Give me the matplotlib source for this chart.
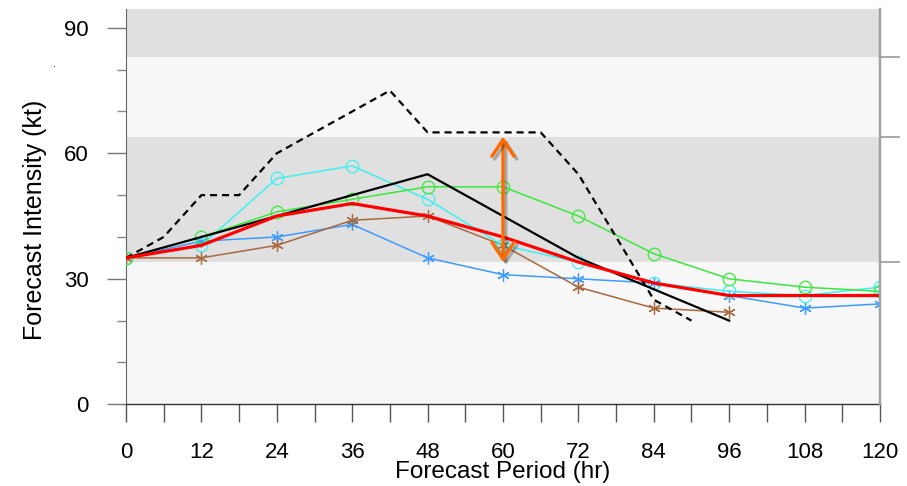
import matplotlib
matplotlib.use("Agg")
import matplotlib.pyplot as plt
import matplotlib.patheffects as pe

plt.rcParams['font.family'] = ['Liberation Sans', 'DejaVu Sans']

# forecast hours
hours = [0, 12, 24, 36, 48, 60, 72, 84, 96, 108, 120]

# dashed black guidance (irregular hours)
dash_hours = [0, 6, 12, 18, 24, 36, 42, 48, 60, 66, 72, 84, 90]
dash_vals = [35, 40, 50, 50, 60, 70, 75, 65, 65, 65, 55, 25, 20]

# solid black
black_hours = [0, 48, 72, 96]
black_vals = [35, 55, 35, 20]

red_vals = [35, 38, 45, 48, 45, 40, 34, 29, 26, 26, 26]
green_vals = [35, 40, 46, 49, 52, 52, 45, 36, 30, 28, 27]
cyan_vals = [35, 38, 54, 57, 49, 38, 34, 29, 27, 26, 28]
blue_vals = [35, 39, 40, 43, 35, 31, 30, 29, 26, 23, 24]
brown_hours = [0, 12, 24, 36, 48, 60, 72, 84, 96]
brown_vals = [35, 35, 38, 44, 45, 38, 28, 23, 22]

# intensity category boundaries (kt)
bounds = [0, 34, 64, 83, 94.5]
band_colors = ['#f7f7f7', '#e0e0e0', '#f7f7f7', '#e0e0e0']

# spread arrow at 60 h
arrow_hour = 60
arrow_lo, arrow_hi = 34, 64

fig = plt.figure(figsize=(9.07, 4.86), dpi=100)
ax = fig.add_axes([126 / 907, 1 - 404.3 / 486, 754 / 907, 395.3 / 486])
ax.set_xlim(0, 120)
ax.set_ylim(0, 94.5)

for i in range(len(band_colors)):
    ax.axhspan(bounds[i], bounds[i + 1], color=band_colors[i], lw=0, zorder=0)

asterisk = (6, 2, 0)
ax.plot(hours, blue_vals, color='#3d9bff', lw=1.1, marker=asterisk, ms=9,
        mew=0.9, zorder=3)
ax.plot(brown_hours, brown_vals, color='#a8693f', lw=1.1, marker=asterisk, ms=9,
        mew=0.9, zorder=3)
ax.plot(hours, cyan_vals, color='#3ff0f0', lw=1.1, marker='o', ms=9,
        mfc='none', mew=0.9, zorder=3)
ax.plot(hours, green_vals, color='#3be83b', lw=1.1, marker='o', ms=9,
        mfc='none', mew=0.9, zorder=3)
ax.plot(black_hours, black_vals, color='black', lw=1.6, zorder=4)
ax.plot(dash_hours, dash_vals, color='black', lw=1.6, dashes=(3.2, 2.2), zorder=4)
ax.plot(hours, red_vals, color='#ff0000', lw=2.3, zorder=5)

ax.annotate('', xy=(arrow_hour, arrow_lo), xytext=(arrow_hour, arrow_hi),
            arrowprops=dict(arrowstyle='<->,head_length=0.6,head_width=0.4',
                            color='#ff6a00', lw=2.4, mutation_scale=20,
                            shrinkA=0, shrinkB=0,
                            path_effects=[pe.SimpleLineShadow(offset=(2, -2), alpha=0.25),
                                          pe.Normal()]),
            zorder=6)

ax.set_xticks(range(0, 121, 12))
ax.set_xticks(range(6, 121, 12), minor=True)
ax.set_yticks([0, 30, 60, 90])
ax.set_yticks([10, 20, 40, 50, 70, 80], minor=True)
ax.tick_params(axis='x', which='both', direction='out', length=13, width=1,
               color='#555555', pad=14, labelsize=16)
ax.tick_params(axis='y', which='major', direction='out', length=13.7, width=1,
               color='#777777', pad=13, labelsize=16)
ax.tick_params(axis='y', which='minor', direction='out', length=6.5, width=1,
               color='#888888')

ax.spines['top'].set_visible(False)
ax.spines['left'].set_color('#666666')
ax.spines['left'].set_linewidth(0.8)
ax.spines['bottom'].set_color('#333333')
ax.spines['bottom'].set_linewidth(1)
ax.spines['right'].set_color('#a0a0a0')
ax.spines['right'].set_linewidth(1.6)

ax2 = ax.twinx()
ax2.set_ylim(ax.get_ylim())
ax2.set_yticks(bounds[1:4])
ax2.tick_params(axis='y', direction='out', length=14.4, width=1.3,
                color='#a0a0a0', labelright=False)
for s in ['top', 'left', 'bottom']:
    ax2.spines[s].set_visible(False)
ax2.spines['right'].set_color('#a0a0a0')
ax2.spines['right'].set_linewidth(1.6)

ax.set_xlabel('Forecast Period (hr)', fontsize=17.5, labelpad=-1)
fig.text(35 / 907, 1 - 220 / 486, 'Forecast Intensity (kt)', rotation=90,
         ha='center', va='center', fontsize=18)
fig.text(55 / 907, 1 - 64 / 486, '.', fontsize=8, ha='center', va='center')

fig.savefig('out.png', dpi=100)
